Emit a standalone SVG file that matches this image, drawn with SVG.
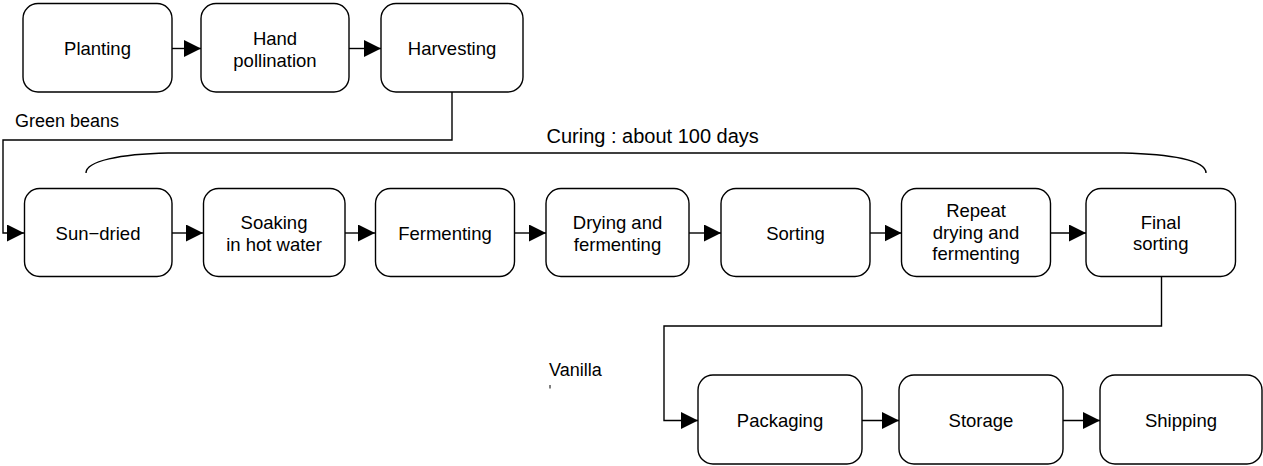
<svg xmlns="http://www.w3.org/2000/svg" width="1263" height="466" viewBox="0 0 1263 466">
  <style>
    .box { fill: #fff; stroke: #000; stroke-width: 1.4; }
    .lbl { font-family: "Liberation Sans", Arial, sans-serif; font-size: 18.5px; fill: #000; text-anchor: middle; }
    .note { font-family: "Liberation Sans", Arial, sans-serif; font-size: 18px; fill: #000; }
    .wire { fill: none; stroke: #000; stroke-width: 1.4; }
  </style>
  <defs>
    <marker id="arrow" markerUnits="userSpaceOnUse" markerWidth="18" markerHeight="18" refX="17" refY="8.5" orient="auto">
      <path d="M0,0 L17,8.5 L0,17 Z" fill="#000"/>
    </marker>
  </defs>

  <rect width="1263" height="466" fill="#fff"/>

  <!-- connectors -->
  <g id="connectors">
    <line class="wire" x1="172" y1="48.5" x2="201" y2="48.5" marker-end="url(#arrow)"/>
    <line class="wire" x1="349" y1="48.5" x2="381" y2="48.5" marker-end="url(#arrow)"/>
    <polyline class="wire" points="452,92 452,140 3,140 3,233 24,233" marker-end="url(#arrow)"/>

    <line class="wire" x1="172" y1="233" x2="203" y2="233" marker-end="url(#arrow)"/>
    <line class="wire" x1="345" y1="233" x2="375" y2="233" marker-end="url(#arrow)"/>
    <line class="wire" x1="514" y1="233" x2="546" y2="233" marker-end="url(#arrow)"/>
    <line class="wire" x1="689" y1="233" x2="721" y2="233" marker-end="url(#arrow)"/>
    <line class="wire" x1="870" y1="233" x2="901.5" y2="233" marker-end="url(#arrow)"/>
    <line class="wire" x1="1050.5" y1="233" x2="1086" y2="233" marker-end="url(#arrow)"/>
    <polyline class="wire" points="1161.5,277 1161.5,326 664,326 664,420.5 698,420.5" marker-end="url(#arrow)"/>

    <line class="wire" x1="862" y1="420.5" x2="899" y2="420.5" marker-end="url(#arrow)"/>
    <line class="wire" x1="1063" y1="420.5" x2="1100" y2="420.5" marker-end="url(#arrow)"/>
  </g>

  <!-- curing span bracket -->
  <g id="curing">
    <path class="wire" d="M86,173 C86,161 120,154 168,153 L1123,153 C1170,154 1206,160 1206,173"/>
    <text class="note" x="546.5" y="142.5" style="font-size:20px">Curing : about 100 days</text>
  </g>

  <g id="label-green-beans">
    <text class="note" x="15" y="126.5">Green beans</text>
  </g>
  <g id="label-vanilla">
    <text class="note" x="549" y="375.5">Vanilla</text>
    <line x1="550" y1="385" x2="550" y2="388.5" stroke="#000" stroke-width="1"/>
  </g>

  <!-- cultivation -->
  <g id="planting">
    <rect class="box" x="23" y="3.5" width="149" height="88.5" rx="15"/>
    <text class="lbl" x="97.5" y="55">Planting</text>
  </g>
  <g id="hand-pollination">
    <rect class="box" x="201" y="3.5" width="148" height="88.5" rx="15"/>
    <text class="lbl" x="275" y="44.5">Hand</text>
    <text class="lbl" x="275" y="66.5">pollination</text>
  </g>
  <g id="harvesting">
    <rect class="box" x="381" y="3.5" width="142" height="88.5" rx="15"/>
    <text class="lbl" x="452" y="55">Harvesting</text>
  </g>

  <!-- curing steps -->
  <g id="sun-dried">
    <rect class="box" x="24.5" y="188.5" width="147.5" height="88" rx="15"/>
    <text class="lbl" x="98" y="239.5">Sun−dried</text>
  </g>
  <g id="soaking">
    <rect class="box" x="203.5" y="188.5" width="141.5" height="88" rx="15"/>
    <text class="lbl" x="274" y="228.5">Soaking</text>
    <text class="lbl" x="274" y="251">in hot water</text>
  </g>
  <g id="fermenting">
    <rect class="box" x="375.5" y="188.5" width="139" height="88" rx="15"/>
    <text class="lbl" x="445" y="239.5">Fermenting</text>
  </g>
  <g id="drying-fermenting">
    <rect class="box" x="546" y="188.5" width="143" height="88" rx="15"/>
    <text class="lbl" x="617.5" y="228.5">Drying and</text>
    <text class="lbl" x="617.5" y="251">fermenting</text>
  </g>
  <g id="sorting">
    <rect class="box" x="721" y="188.5" width="149" height="88" rx="15"/>
    <text class="lbl" x="795.5" y="239.5">Sorting</text>
  </g>
  <g id="repeat">
    <rect class="box" x="901.5" y="188.5" width="149" height="88" rx="15"/>
    <text class="lbl" x="976" y="217">Repeat</text>
    <text class="lbl" x="976" y="238.5">drying and</text>
    <text class="lbl" x="976" y="260">fermenting</text>
  </g>
  <g id="final-sorting">
    <rect class="box" x="1086" y="188.5" width="149.5" height="88" rx="15"/>
    <text class="lbl" x="1160.7" y="228.5">Final</text>
    <text class="lbl" x="1160.7" y="250">sorting</text>
  </g>

  <!-- dispatch -->
  <g id="packaging">
    <rect class="box" x="698" y="375" width="164" height="89" rx="15"/>
    <text class="lbl" x="780" y="427">Packaging</text>
  </g>
  <g id="storage">
    <rect class="box" x="899" y="375" width="164" height="89" rx="15"/>
    <text class="lbl" x="981" y="427">Storage</text>
  </g>
  <g id="shipping">
    <rect class="box" x="1100" y="375" width="162" height="89" rx="15"/>
    <text class="lbl" x="1181" y="427">Shipping</text>
  </g>
</svg>
